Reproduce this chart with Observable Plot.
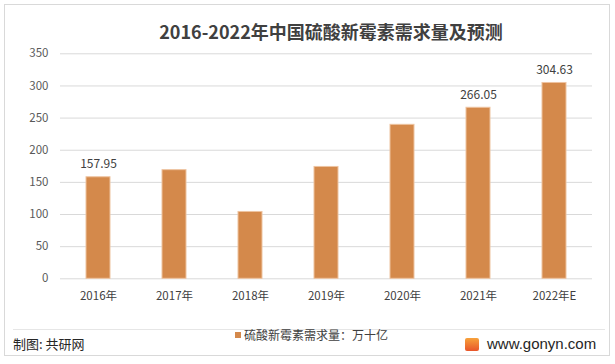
<!DOCTYPE html>
<html>
<head>
<meta charset="utf-8">
<script src="https://cdn.jsdelivr.net/npm/d3@7"></script>
<script src="https://cdn.jsdelivr.net/npm/@observablehq/plot@0.6"></script>
<style>
  html, body { margin: 0; padding: 0; background: #ffffff; }
  #wrap { position: relative; width: 615px; height: 364px; overflow: hidden; font-family: "Noto Sans CJK SC", "Noto Sans", sans-serif; }
  #frame { position: absolute; left: 4px; top: 4px; width: 606px; height: 352px; border: 1px solid #d9d9d9; box-sizing: border-box; }
  #title { position: absolute; left: 0; width: 662px; top: 19px; text-align: center; font-size: 18px; font-weight: bold; color: #404040; line-height: 24px; white-space: nowrap; }
  #chart { position: absolute; left: 0; top: 40px; }
  #sep { position: absolute; left: 13px; width: 592px; top: 329px; height: 0; border-top: 1px solid #e6e6e6; }
  #legend { position: absolute; left: 235px; top: 326px; font-size: 12px; color: #404040; line-height: 18px; white-space: nowrap; }
  #legend span.sw { display: inline-block; width: 6px; height: 6px; background: #d4894b; margin-right: 3px; vertical-align: 2px; }
  #source { position: absolute; left: 13px; top: 335px; font-size: 13px; color: #262626; line-height: 18px; white-space: nowrap; }
  #site { position: absolute; left: 465px; top: 335px; font-size: 15px; color: #262626; line-height: 18px; white-space: nowrap; font-family: "Liberation Sans", Arial, sans-serif; }
  #site .logo { display: inline-block; width: 14px; height: 13px; background: linear-gradient(#f7a23b, #e8552a); border-radius: 2px; margin-right: 8px; vertical-align: -2px; }
</style>
</head>
<body>
<div id="wrap">
  <div id="frame"></div>
  <div id="title"></div>
  <div id="chart"></div>
  <div id="sep"></div>
  <div id="legend"><span class="sw"></span><span id="legendText"></span></div>
  <div id="source"></div>
  <div id="site"><span class="logo"></span>www.gonyn.com</div>
</div>
<script>
const titleText = "2016-2022年中国硫酸新霉素需求量及预测";
const categories = ["2016年", "2017年", "2018年", "2019年", "2020年", "2021年", "2022年E"];
const demand = [157.95, 169, 104, 174, 239.5, 266.05, 304.63];
const labeled = ["2016年", "2021年", "2022年E"];
const labelText = ["157.95", "266.05", "304.63"];
const yTicks = [0, 50, 100, 150, 200, 250, 300, 350];
const seriesName = "硫酸新霉素需求量：万十亿";
const sourceText = "制图: 共研网";

document.getElementById("title").textContent = titleText;
document.getElementById("legendText").textContent = seriesName;
document.getElementById("source").textContent = sourceText;

const data = categories.map((c, i) => ({category: c, value: demand[i]}));
const labels = labeled.map((c, i) => ({category: c, value: demand[categories.indexOf(c)], text: labelText[i]}));

const chart = Plot.plot({
  width: 615,
  height: 270,
  marginTop: 13.3,
  marginBottom: 31.7,
  marginLeft: 60,
  marginRight: 23,
  style: {fontFamily: "'Noto Sans CJK SC', 'Noto Sans', sans-serif", background: "transparent"},
  x: {domain: categories, paddingInner: 0.69, paddingOuter: 0.345, label: null},
  y: {domain: [0, 350], label: null},
  marks: [
    Plot.ruleY(yTicks, {stroke: "#d9d9d9", strokeWidth: 1}),
    Plot.barY(data, {x: "category", y: "value", fill: "#d4894b", stroke: "#eec3a0", strokeWidth: 1}),
    Plot.text(labels, {x: "category", y: "value", text: "text", dy: -13, fontSize: 12, fill: "#404040"}),
    Plot.axisY({ticks: yTicks, tickSize: 0, tickPadding: 12, fontSize: 11.5, color: "#595959", label: null}),
    Plot.axisX({tickSize: 0, tickPadding: 13, fontSize: 11.5, color: "#404040", label: null})
  ]
});
document.getElementById("chart").appendChild(chart);
</script>
</body>
</html>
